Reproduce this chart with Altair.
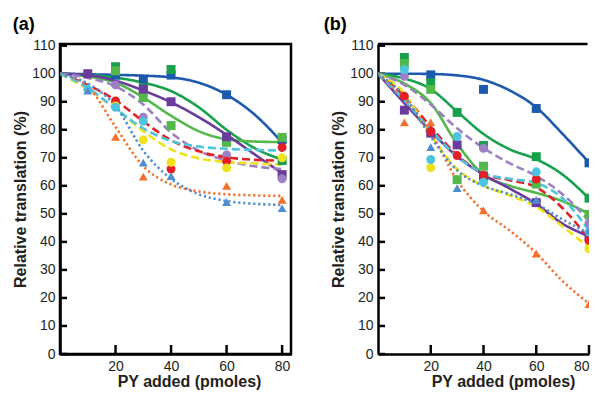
import altair as alt
import pandas as pd

FONT = "Liberation Sans"
FIT_X = [0, 10, 20, 30, 40, 50, 60, 70, 80]
X_TICKS = [20, 40, 60, 80]
Y_TICKS = [0, 10, 20, 30, 40, 50, 60, 70, 80, 90, 100, 110]

SERIES = ["blue", "green1", "green2", "purple", "lavender", "red", "yellow", "cyan", "orange", "ltblue"]
COLORS = ["#1d59ad", "#17a14b", "#52b84a", "#6a3a9c", "#9d80c3", "#e41f26", "#efe21b", "#4dc4e0", "#f36f2a", "#4d8dd0"]
SHAPES = ["square", "square", "square", "square", "circle", "circle", "circle", "circle", "triangle-up", "triangle-up"]
SIZES = [80, 80, 80, 80, 75, 75, 75, 75, 85, 85]
DASHES = [[1, 0], [1, 0], [1, 0], [1, 0], [8, 4], [8, 4], [8, 4], [8, 4], [2.2, 2.8], [2.2, 2.8]]

# ---------------- panel (a) ----------------
A_BLUE_X = [20, 30, 40, 60, 80]
A_BLUE_Y = [99.5, 98, 99.5, 92.5, 76.5]
A_BLUE_FIT = [100, 99.8, 99.6, 99.3, 98.7, 96.8, 92.5, 85.5, 75.5]
A_GREEN1_X = [20, 30, 40, 60, 80]
A_GREEN1_Y = [102.5, 95, 101.5, 76.5, 69]
A_GREEN1_FIT = [100, 99.6, 98.6, 96.8, 93.8, 88, 80, 73.5, 69.3]
A_GREEN2_X = [20, 30, 40, 60, 80]
A_GREEN2_Y = [101, 91.5, 81.5, 75.5, 77.3]
A_GREEN2_FIT = [100, 99, 96.8, 91.5, 85, 79.5, 76.6, 75.8, 75.6]
A_PURPLE_X = [10, 30, 40, 60, 80]
A_PURPLE_Y = [100, 94.5, 90, 77.5, 64]
A_PURPLE_FIT = [100, 99.5, 97.5, 94, 89.8, 84.5, 78.2, 71.3, 64.5]
A_LAV_X = [20, 30, 60, 80]
A_LAV_Y = [96, 84.5, 71, 62.5]
A_LAV_FIT = [100, 98.5, 95.5, 89, 79, 72.5, 69, 67, 66]
A_RED_X = [20, 40, 60, 80]
A_RED_Y = [90.3, 66, 68.8, 73.7]
A_RED_FIT = [100, 96, 90.5, 83, 76.3, 72.3, 70.2, 69.3, 69]
A_YEL_X = [20, 30, 40, 60, 80]
A_YEL_Y = [88.5, 76.4, 68.4, 66.4, 70]
A_YEL_FIT = [100, 94.5, 87.5, 79.5, 73, 69.8, 68.5, 68, 67.6]
A_CYAN_X = [10, 20, 30]
A_CYAN_Y = [94.5, 88, 83]
A_CYAN_FIT = [100, 95, 87.5, 80.5, 76, 74, 73.2, 72.8, 72.6]
A_ORANGE_X = [20, 30, 60, 80]
A_ORANGE_Y = [77.5, 63.3, 60, 55]
A_ORANGE_FIT = [100, 95.5, 81, 67, 60.5, 58, 57, 56.6, 56.4]
A_LTBLUE_X = [10, 30, 40, 60, 80]
A_LTBLUE_Y = [94, 68.3, 63.5, 54.2, 52]
A_LTBLUE_FIT = [100, 96.5, 88.5, 72.5, 62.5, 57, 54.6, 53.6, 53.2]

# ---------------- panel (b) ----------------
B_BLUE_X = [20, 40, 60, 80]
B_BLUE_Y = [99.6, 94.4, 87.6, 68.2]
B_BLUE_FIT = [100, 100, 99.9, 99.4, 97.8, 94, 88, 78.5, 68.3]
B_GREEN1_X = [10, 20, 30, 40, 60, 80]
B_GREEN1_Y = [105.8, 96.8, 86.2, 74.4, 70.4, 55.6]
B_GREEN1_FIT = [100, 98.3, 94.5, 86.5, 78.5, 73, 69.5, 64, 55.5]
B_GREEN2_X = [10, 20, 30, 40, 60, 80]
B_GREEN2_Y = [103.6, 94.4, 62.2, 67, 60.6, 49.8]
B_GREEN2_FIT = [100, 96.5, 89.5, 75, 64, 60, 57.5, 54.5, 50]
B_PURPLE_X = [10, 20, 30, 40, 60, 80]
B_PURPLE_Y = [87, 78.8, 74.6, 63.5, 54, 42]
B_PURPLE_FIT = [100, 89.5, 79.5, 70.5, 64, 59, 53.5, 46.5, 42]
B_LAV_X = [10, 40, 80]
B_LAV_Y = [99.1, 73.4, 46.8]
B_LAV_FIT = [100, 96, 89, 80.5, 73.5, 68, 63.5, 57, 47.5]
B_RED_X = [10, 20, 30, 40, 60, 80]
B_RED_Y = [92, 79.4, 70.8, 63.8, 62.4, 40.5]
B_RED_FIT = [100, 92, 81, 71, 64.3, 62, 59.5, 52, 41]
B_YEL_X = [20, 80]
B_YEL_Y = [66.5, 37.5]
B_YEL_FIT = [100, 93, 78, 66, 60, 56.5, 52.5, 45.5, 38]
B_CYAN_X = [10, 20, 30, 40, 60, 80]
B_CYAN_Y = [101.5, 69.4, 77.6, 61.3, 65, 43.5]
B_CYAN_FIT = [100, 90.5, 80, 70.5, 64.5, 62.5, 61, 55.5, 44]
B_ORANGE_X = [10, 20, 40, 60, 80]
B_ORANGE_Y = [82.6, 82.6, 51.2, 35.8, 17.8]
B_ORANGE_FIT = [100, 91, 79, 62, 51, 44, 36, 26, 18]
B_LTBLUE_X = [20, 30, 60, 80]
B_LTBLUE_Y = [73.8, 59.2, 55, 44]
B_LTBLUE_FIT = [100, 92, 77.5, 65.5, 60, 57, 53.5, 48, 43]

A_PTS = [(A_BLUE_X, A_BLUE_Y), (A_GREEN1_X, A_GREEN1_Y), (A_GREEN2_X, A_GREEN2_Y), (A_PURPLE_X, A_PURPLE_Y),
         (A_LAV_X, A_LAV_Y), (A_RED_X, A_RED_Y), (A_YEL_X, A_YEL_Y), (A_CYAN_X, A_CYAN_Y),
         (A_ORANGE_X, A_ORANGE_Y), (A_LTBLUE_X, A_LTBLUE_Y)]
A_FITS = [A_BLUE_FIT, A_GREEN1_FIT, A_GREEN2_FIT, A_PURPLE_FIT, A_LAV_FIT, A_RED_FIT, A_YEL_FIT,
          A_CYAN_FIT, A_ORANGE_FIT, A_LTBLUE_FIT]
B_PTS = [(B_BLUE_X, B_BLUE_Y), (B_GREEN1_X, B_GREEN1_Y), (B_GREEN2_X, B_GREEN2_Y), (B_PURPLE_X, B_PURPLE_Y),
         (B_LAV_X, B_LAV_Y), (B_RED_X, B_RED_Y), (B_YEL_X, B_YEL_Y), (B_CYAN_X, B_CYAN_Y),
         (B_ORANGE_X, B_ORANGE_Y), (B_LTBLUE_X, B_LTBLUE_Y)]
B_FITS = [B_BLUE_FIT, B_GREEN1_FIT, B_GREEN2_FIT, B_PURPLE_FIT, B_LAV_FIT, B_RED_FIT, B_YEL_FIT,
          B_CYAN_FIT, B_ORANGE_FIT, B_LTBLUE_FIT]

H = 310
YMAX = 110.6
A_W, A_XMAX = 231, 83.2
B_W, B_XMAX = 211, 80


def frames(pts, fits):
    prow, frow = [], []
    for s, (xs, ys), fit in zip(SERIES, pts, fits):
        for x, y in zip(xs, ys):
            prow.append({"series": s, "x": x, "y": y})
        for x, y in zip(FIT_X, fit):
            frow.append({"series": s, "x": x, "y": y})
    return pd.DataFrame(prow), pd.DataFrame(frow)


def panel(pts, fits, label, title_dx, title_x, width, xmax, framed):
    pdf, fdf = frames(pts, fits)
    xs = alt.Scale(domain=[0, xmax], nice=False, zero=False)
    ys = alt.Scale(domain=[0, YMAX], nice=False, zero=False)
    xaxis = alt.Axis(values=X_TICKS, tickSize=0, grid=False, domainColor="black", domainWidth=2.5,
                     labelFont=FONT, labelFontSize=14, labelColor="#231f20", labelPadding=5,
                     labelFlush=4,
                     title="PY added (pmoles)", titleFont=FONT, titleFontSize=16, titleFontWeight="bold",
                     titleColor="#231f20", titlePadding=0, titleX=title_x, titleAlign="center")
    yaxis = alt.Axis(values=Y_TICKS, tickSize=0, grid=False, domainColor="black", domainWidth=2.5,
                     labelFont=FONT, labelFontSize=14, labelColor="#231f20", labelPadding=5,
                     title="Relative translation (%)", titleFont=FONT, titleFontSize=16,
                     titleFontWeight="bold", titleColor="#231f20", titlePadding=3)
    color = alt.Color("series:N", scale=alt.Scale(domain=SERIES, range=COLORS), legend=None)
    tx = pd.DataFrame({"t": X_TICKS})
    ty = pd.DataFrame({"t": Y_TICKS})
    xticks = alt.Chart(tx).mark_rule(color="black", strokeWidth=2.5).encode(
        x=alt.X("t:Q", scale=xs, axis=xaxis), y=alt.value(H), y2=alt.value(H - 9))
    yticks = alt.Chart(ty).mark_rule(color="black", strokeWidth=2.5).encode(
        y=alt.Y("t:Q", scale=ys, axis=yaxis), x=alt.value(0), x2=alt.value(7))
    lines = alt.Chart(fdf).mark_line(interpolate="monotone", strokeWidth=2.6, clip=True).encode(
        x=alt.X("x:Q", scale=xs, axis=xaxis), y=alt.Y("y:Q", scale=ys, axis=yaxis), color=color,
        strokeDash=alt.StrokeDash("series:N", scale=alt.Scale(domain=SERIES, range=DASHES), legend=None),
        detail="series:N")
    points = alt.Chart(pdf).mark_point(filled=True, opacity=1, clip=True).encode(
        x=alt.X("x:Q", scale=xs, axis=xaxis), y=alt.Y("y:Q", scale=ys, axis=yaxis), color=color,
        shape=alt.Shape("series:N", scale=alt.Scale(domain=SERIES, range=SHAPES), legend=None),
        size=alt.Size("series:N", scale=alt.Scale(domain=SERIES, range=SIZES), legend=None))
    layers = [xticks, yticks, lines, points]
    if framed:
        view = alt.ViewBackground(stroke="black", strokeWidth=2.5)
    else:
        view = alt.ViewBackground(stroke="transparent")
        top = alt.Chart(pd.DataFrame({"t": [0]})).mark_rule(color="black", strokeWidth=2.5).encode(
            x=alt.value(0), x2=alt.value(width - 1.5), y=alt.value(0))
        layers.append(top)
    return alt.layer(*layers).properties(
        width=width, height=H,
        title=alt.TitleParams(label, anchor="start", font=FONT, fontSize=18, fontWeight="bold",
                              color="black", offset=5, dx=title_dx),
        view=view,
    )


pa = panel(A_PTS, A_FITS, "(a)", 0, 129, A_W, A_XMAX, True)
pb = panel(B_PTS, B_FITS, "(b)", -7, 125, B_W, B_XMAX, False)

chart = alt.hconcat(pa, pb, spacing=87, bounds="flush").properties(
    padding={"left": 3, "top": 6, "right": 0, "bottom": -1}
)

chart.save("out.html", embed_options={"renderer": "svg", "actions": False})
